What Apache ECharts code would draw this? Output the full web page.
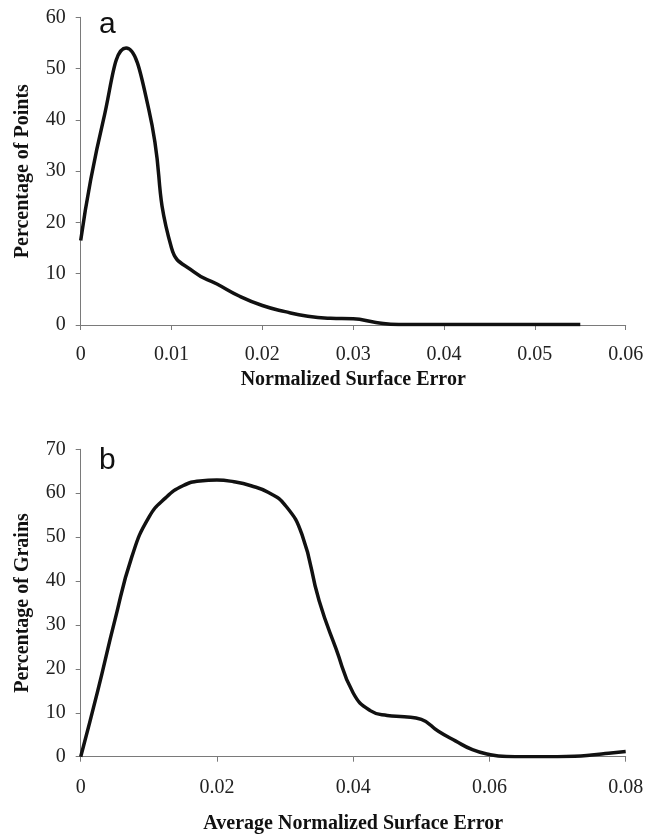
<!DOCTYPE html>
<html>
<head>
<meta charset="utf-8">
<script src="https://cdn.jsdelivr.net/npm/echarts@6/dist/echarts.min.js"></script>
<style>
  html, body { margin: 0; padding: 0; background: #ffffff; }
  #chart { width: 661px; height: 836px; }
</style>
</head>
<body>
<div id="chart"></div>
<script>
// Panel a: distribution of normalized surface error over all points
const errA = [0, 0.0025, 0.005, 0.0075, 0.01, 0.0125, 0.015, 0.0175, 0.02, 0.0225,
              0.025, 0.0275, 0.03, 0.0325, 0.035, 0.0375, 0.04, 0.0425, 0.045, 0.0475,
              0.05, 0.0525, 0.055];
const pctPoints = [16.5, 40, 54, 42, 15, 10.3, 8, 5.6, 3.8, 2.6,
                   1.7, 1.3, 1.2, 0.5, 0.1, 0.1, 0.1, 0.1, 0.1, 0.1,
                   0.1, 0.1, 0.1];

// Panel b: distribution of average normalized surface error per grain
const errB = [0, 0.0025, 0.005, 0.0075, 0.01, 0.0125, 0.015, 0.0175, 0.02, 0.0225,
              0.025, 0.0275, 0.03, 0.0325, 0.035, 0.0375, 0.04, 0.0425, 0.045, 0.0475,
              0.05, 0.0525, 0.055, 0.0575, 0.06, 0.0625, 0.065, 0.0675, 0.07, 0.0725,
              0.075, 0.0775, 0.08];
const pctGrains = [0, 15, 31, 45.5, 54.5, 59, 61.7, 62.8, 63, 62.6,
                   61.7, 60.2, 57.3, 50.5, 35.5, 24.5, 14.5, 10.5, 9.4, 9.1,
                   8.5, 5.8, 3.6, 1.6, 0.5, 0.05, 0, 0, 0, 0.1,
                   0.4, 0.8, 1.2];

const panelLetters = ['a', 'b'];
const xTitles = ['Normalized Surface Error', 'Average Normalized Surface Error'];
const yTitles = ['Percentage of Points', 'Percentage of Grains'];

const serif = '"Liberation Serif", "Times New Roman", serif';
const sans = '"Liberation Sans", Arial, sans-serif';
const axisGrey = '#7a7a7a';

function pairs(xs, ys) { return xs.map((x, i) => [x, ys[i]]); }

function xAxisFor(idx, max, interval, margin, gap) {
  return {
    gridIndex: idx, type: 'value', min: 0, max: max, interval: interval,
    splitLine: { show: false },
    axisLine: { show: true, lineStyle: { color: axisGrey, width: 1 } },
    axisTick: { show: true, inside: false, length: 5, lineStyle: { color: axisGrey } },
    axisLabel: { color: '#222', fontFamily: serif, fontSize: 20, margin: margin },
    name: xTitles[idx], nameLocation: 'middle', nameGap: gap,
    nameTextStyle: { color: '#111', fontFamily: serif, fontSize: 20, fontWeight: 'bold' }
  };
}

function yAxisFor(idx, max, interval) {
  return {
    gridIndex: idx, type: 'value', min: 0, max: max, interval: interval,
    splitLine: { show: false },
    axisLine: { show: true, lineStyle: { color: axisGrey, width: 1 } },
    axisTick: { show: true, inside: false, length: 5, lineStyle: { color: axisGrey } },
    axisLabel: { color: '#222', fontFamily: serif, fontSize: 20, margin: 15 },
    name: yTitles[idx], nameLocation: 'middle', nameGap: 48, nameRotate: 90,
    nameTextStyle: { color: '#111', fontFamily: serif, fontSize: 20, fontWeight: 'bold' }
  };
}

const lineStyle = { color: '#111', width: 3.5 };

const chart = echarts.init(document.getElementById('chart'), null, { renderer: 'canvas' });
chart.setOption({
  animation: false,
  backgroundColor: '#ffffff',
  title: [
    { text: panelLetters[0], left: 99, top: 10, padding: 0,
      textStyle: { fontFamily: sans, fontSize: 30, fontWeight: 'normal', color: '#111' } },
    { text: panelLetters[1], left: 99, top: 446, padding: 0,
      textStyle: { fontFamily: sans, fontSize: 30, fontWeight: 'normal', color: '#111' } }
  ],
  grid: [
    { left: 80.7, right: 35.3, top: 17.3, height: 307.7 },
    { left: 80.7, right: 35.3, top: 449.3, height: 307.4 }
  ],
  xAxis: [
    xAxisFor(0, 0.06, 0.01, 20, 45),
    xAxisFor(1, 0.08, 0.02, 21, 57)
  ],
  yAxis: [
    yAxisFor(0, 60, 10),
    yAxisFor(1, 70, 10)
  ],
  series: [
    { type: 'line', xAxisIndex: 0, yAxisIndex: 0, data: pairs(errA, pctPoints),
      smooth: 0.5, showSymbol: false, lineStyle: lineStyle },
    { type: 'line', xAxisIndex: 1, yAxisIndex: 1, data: pairs(errB, pctGrains),
      smooth: 0.5, showSymbol: false, lineStyle: lineStyle }
  ]
});
</script>
</body>
</html>
